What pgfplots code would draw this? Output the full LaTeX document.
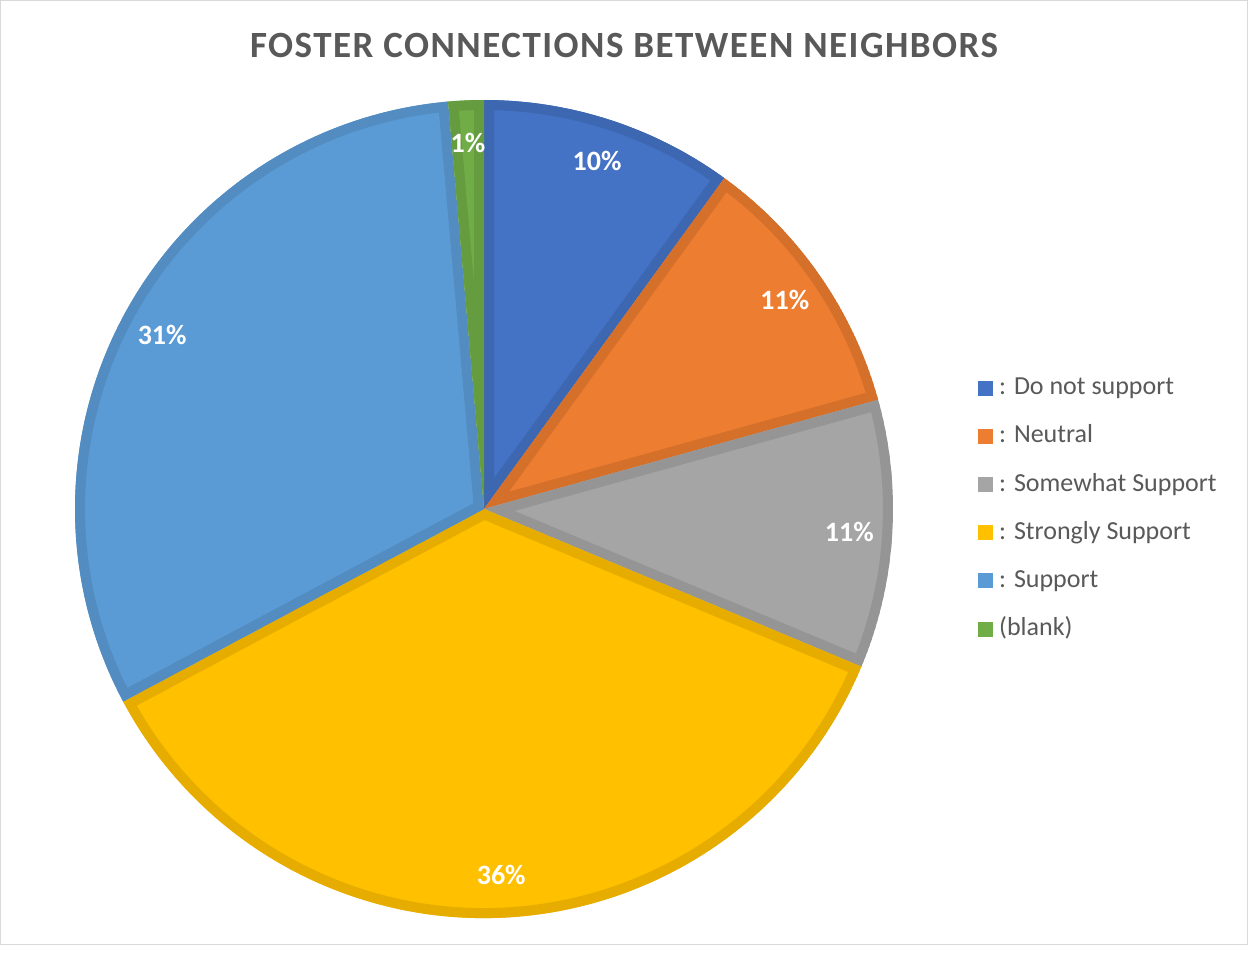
\documentclass[border=0pt]{standalone}
\usepackage{pgfplots}
\pgfplotsset{compat=1.18}
\usepackage{pgfplotstable}
\usepackage{fontspec}
\setmainfont{Carlito}
\newfontfamily\titlefont[LetterSpace=4]{Carlito}
\definecolor{c1}{HTML}{4472C4}\definecolor{e1}{HTML}{3D67B1}
\definecolor{c2}{HTML}{ED7D31}\definecolor{e2}{HTML}{D5702B}
\definecolor{c3}{HTML}{A5A5A5}\definecolor{e3}{HTML}{959595}
\definecolor{c4}{HTML}{FFC000}\definecolor{e4}{HTML}{E6AD00}
\definecolor{c5}{HTML}{5B9BD5}\definecolor{e5}{HTML}{528CC0}
\definecolor{c6}{HTML}{70AD47}\definecolor{e6}{HTML}{659C40}
\definecolor{txt}{HTML}{595959}
\pgfplotstableread[col sep=comma]{
name,value,fc,ec
: Do not support,10.0,c1,e1
: Neutral,10.7,c2,e2
: Somewhat Support,10.6,c3,e3
: Strongly Support,35.9,c4,e4
: Support,31.4,c5,e5
(blank),1.4,c6,e6
}\piedata
\begin{document}
\begin{tikzpicture}
\begin{axis}[
  width=1248pt, height=945pt, scale only axis,
  xmin=0, xmax=1248, ymin=0, ymax=945, y dir=reverse,
  hide axis, clip=false, anchor=south west, at={(0,0)}]
\addplot[draw=none] coordinates {(0,0) (1248,945)};
\pgfplotsextra{
  \fill[white] (axis cs:0,0) rectangle (axis cs:1248,945);
  \draw[black!15, line width=1pt] (axis cs:0.5,0.5) rectangle (axis cs:1247.5,944.5);
  \gdef\cum{0}
  \foreach \i in {0,...,5}{
    \pgfplotstablegetelem{\i}{value}\of\piedata \let\v\pgfplotsretval
    \pgfplotstablegetelem{\i}{fc}\of\piedata \let\fc\pgfplotsretval
    \pgfplotstablegetelem{\i}{ec}\of\piedata \let\ec\pgfplotsretval
    \pgfmathsetmacro\a{90-3.6*\cum}
    \pgfmathsetmacro\b{90-3.6*(\cum+\v)}
    \begin{scope}
      \clip (axis cs:484,509) -- ++(\a:409pt) arc[start angle=\a,end angle=\b,radius=409pt] -- cycle;
      \fill[\fc] (axis cs:484,509) -- ++(\a:409pt) arc[start angle=\a,end angle=\b,radius=409pt] -- cycle;
      \draw[\ec, line width=20pt] (axis cs:484,509) -- ++(\a:409pt) arc[start angle=\a,end angle=\b,radius=409pt] -- cycle;
    \end{scope}
    \pgfmathsetmacro\newcum{\cum+\v}
    \xdef\cum{\newcum}
  }
  \gdef\cum{0}
  \foreach \i in {0,...,5}{
    \pgfplotstablegetelem{\i}{value}\of\piedata \let\v\pgfplotsretval
    \pgfplotstablegetelem{\i}{name}\of\piedata \let\nm\pgfplotsretval
    \pgfplotstablegetelem{\i}{fc}\of\piedata \let\fc\pgfplotsretval
    \pgfmathsetmacro\m{90-3.6*(\cum+\v/2)}
    \pgfmathtruncatemacro\rv{round(\v)}
    \path (axis cs:484,509) ++(\m:366pt) node[text=white, font=\bfseries\fontsize{28}{30}\selectfont] {\rv\%};
    \pgfmathsetmacro\ly{388+48.2*\i}
    \fill[\fc] (axis cs:978,\ly-7.5) rectangle (axis cs:993,\ly+7.5);
    \node[anchor=west, inner sep=0pt, text=txt, font=\fontsize{26}{28}\selectfont] at (axis cs:999,\ly+1) {\strut\nm};
    \pgfmathsetmacro\newcum{\cum+\v}
    \xdef\cum{\newcum}
  }
  \node[text=txt, font=\titlefont\bfseries\fontsize{37}{40}\selectfont] at (axis cs:624,45) {FOSTER CONNECTIONS BETWEEN NEIGHBORS};
}
\end{axis}
\end{tikzpicture}
\end{document}
